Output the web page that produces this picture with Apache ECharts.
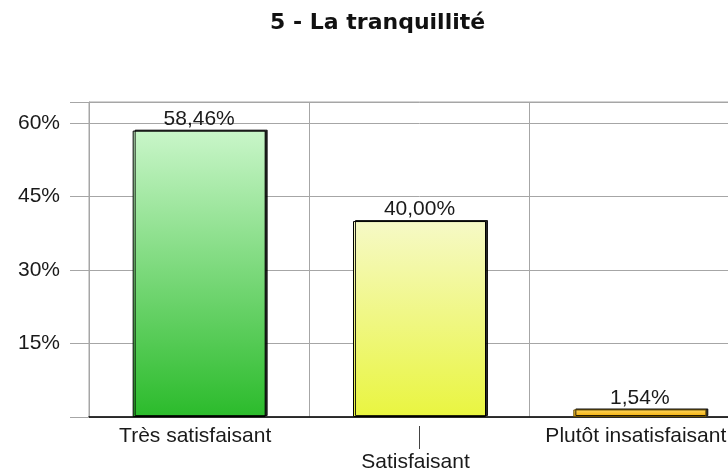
<!DOCTYPE html>
<html>
<head>
<meta charset="utf-8">
<title>5 - La tranquillité</title>
<script src="https://cdn.jsdelivr.net/npm/echarts@6/dist/echarts.min.js"></script>
<style>
  html, body { margin: 0; padding: 0; background: #fff; overflow: hidden; }
  /* the plot runs past the right edge of the picture, so the canvas is wider */
  #chart { width: 750px; height: 473px; }
</style>
</head>
<body>
<div id="chart"></div>
<script>
// données
var categories = ['Très satisfaisant', 'Satisfaisant', 'Plutôt insatisfaisant']
var values = [58.46, 40.00, 1.54]
var tickValues = [15, 30, 45, 60]

// couleurs des barres (haut -> bas)
var barColors = [
  ['#c9f6c9', '#2bbb2b'],
  ['#f6f9c6', '#e9f540'],
  ['#ffd860', '#f2aa00']
]

var chart = echarts.init(document.getElementById('chart'))

var barData = values.map(function(v, i) {
  return {
    value: v,
    itemStyle: {
      color: new echarts.graphic.LinearGradient(0, 0, 0, 1, [
        { offset: 0, color: barColors[i][0] },
        { offset: 1, color: barColors[i][1] }
      ]),
      borderColor: i === 2 ? '#6b5000' : '#000',
      borderWidth: 1,
      shadowColor: 'rgba(0,0,0,0.85)',
      shadowOffsetX: 2,
      shadowOffsetY: -1,
      shadowBlur: 0
    }
  }
})

chart.setOption({
  animation: false,
  title: {
    text: '5 - La tranquillité',
    left: 265,
    top: 7,
    textStyle: {
      fontFamily: 'DejaVu Sans',
      fontWeight: 'bold',
      fontSize: 22,
      color: '#111'
    }
  },
  grid: {
    left: 89,
    top: 102,
    bottom: 56,
    right: 0,
    show: true,
    borderColor: '#a6a6a6',
    borderWidth: 1
  },
  xAxis: {
    type: 'category',
    data: categories,
    axisLine: { lineStyle: { color: '#000', width: 1.5 } },
    axisTick: { show: false },
    splitLine: { show: true, interval: 0, lineStyle: { color: '#a6a6a6' } },
    axisLabel: {
      interval: 0,
      margin: 6,
      color: '#1a1a1a',
      fontFamily: 'Liberation Sans',
      fontSize: 21,
      formatter: function(val, idx) {
        // l'étiquette du milieu est décalée vers le bas avec un trait
        if (idx === 1) return '{g|}\n{t|}\n{b|' + val + '}'
        return '{b|' + val + '}'
      },
      rich: {
        g: { height: 3 },
        t: { width: 1, height: 23, backgroundColor: '#444' },
        b: { fontSize: 21, fontFamily: 'Liberation Sans', color: '#1a1a1a', lineHeight: 26, padding: [0, 8, 0, 0] }
      }
    }
  },
  yAxis: {
    type: 'value',
    min: 0,
    max: Math.max.apply(null, values) * 1.1,
    interval: 15,
    axisLine: { show: true, lineStyle: { color: '#a6a6a6' } },
    axisTick: { show: true, length: 19, lineStyle: { color: '#a6a6a6' } },
    splitLine: { show: true, lineStyle: { color: '#a6a6a6' } },
    axisLabel: {
      margin: 29,
      customValues: tickValues,
      color: '#1a1a1a',
      fontFamily: 'Liberation Sans',
      fontSize: 21,
      formatter: function(v) { return v + '%' }
    }
  },
  series: [
    {
      type: 'bar',
      data: barData,
      barWidth: 133,
      label: {
        show: true,
        position: 'top',
        distance: 1,
        color: '#1a1a1a',
        fontFamily: 'Liberation Sans',
        fontSize: 21,
        formatter: function(p) { return p.value.toFixed(2).replace('.', ',') + '%' }
      }
    }
  ]
})
</script>
</body>
</html>
